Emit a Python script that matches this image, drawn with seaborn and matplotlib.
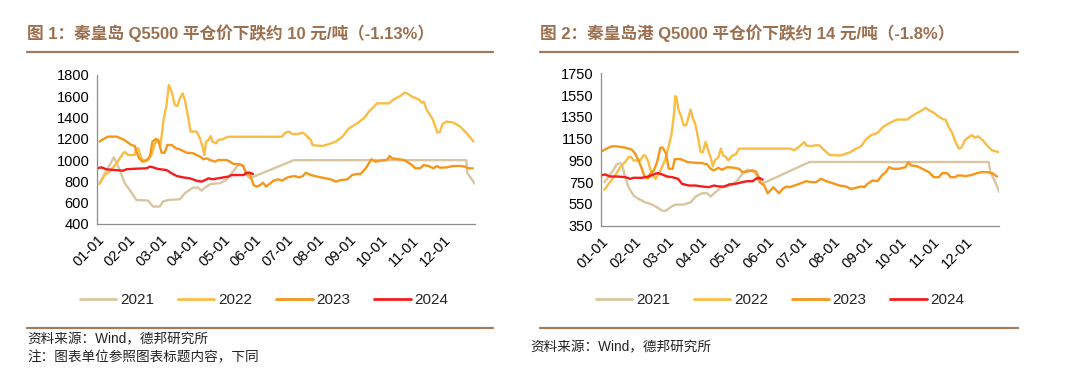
import matplotlib
matplotlib.use("Agg")
import matplotlib.pyplot as plt
from matplotlib.lines import Line2D
import seaborn as sns
import pandas as pd

# ---------------- data (x = month position, 0 = Jan 1, 12 = Dec 31) ----------------
months = ["01-01", "02-01", "03-01", "04-01", "05-01", "06-01",
          "07-01", "08-01", "09-01", "10-01", "11-01", "12-01"]
years = ["2021", "2022", "2023", "2024"]

# Chart 1: Qinhuangdao Q5500
q55_2021_x = [0.08, 0.30, 0.54, 0.72, 0.88, 1.04, 1.25, 1.62, 1.78, 1.99, 2.10, 2.26, 2.63, 2.79,
              3.05, 3.20, 3.32, 3.47, 3.62, 3.90, 4.10, 4.32, 4.48, 4.64, 4.75, 4.85, 6.25, 11.72,
              11.76, 12.0]
q55_2021_y = [783, 900, 1027, 908, 783, 720, 626, 620, 564, 564, 611, 626, 632, 689,
              742, 742, 714, 752, 777, 783, 814, 892, 955, 955, 861, 830, 1000, 1000,
              877, 777]

q55_2022_x = [0.08, 0.24, 0.40, 0.62, 0.83, 0.88, 0.99, 1.20, 1.25, 1.31, 1.41, 1.52, 1.62, 1.73,
              1.84, 1.94, 2.02, 2.10, 2.15, 2.20, 2.28, 2.37, 2.47, 2.55, 2.63, 2.72, 2.79, 2.90,
              2.97, 3.16, 3.27, 3.35, 3.41, 3.46, 3.54, 3.61, 3.67, 3.78, 3.85, 3.99, 4.12, 4.17,
              5.87, 5.98, 6.10, 6.20, 6.37, 6.53, 6.63, 6.79, 6.84, 7.00, 7.16, 7.37, 7.58, 7.79,
              8.00, 8.26, 8.47, 8.63, 8.79, 8.89, 9.26, 9.42, 9.63, 9.76, 9.84, 10.00, 10.21,
              10.32, 10.37, 10.47, 10.66, 10.74, 10.81, 10.89, 10.97, 11.10, 11.32, 11.53, 11.74,
              11.95]
q55_2022_y = [776, 860, 892, 970, 1064, 1077, 1048, 1048, 1111, 1111, 1017, 986, 1001, 1048,
              1158, 1196, 1150, 1346, 1440, 1503, 1706, 1643, 1518, 1509, 1581, 1628, 1565, 1393,
              1268, 1268, 1205, 1127, 1048, 1174, 1190, 1227, 1174, 1158, 1190, 1196, 1214, 1220,
              1220, 1258, 1268, 1246, 1246, 1258, 1236, 1189, 1142, 1136, 1133, 1152, 1174, 1221,
              1299, 1346, 1393, 1455, 1502, 1534, 1534, 1571, 1603, 1634, 1628, 1596, 1571,
              1540, 1550, 1471, 1383, 1315, 1258, 1268, 1340, 1362, 1352, 1315, 1252,
              1174]

q55_2023_x = [0.08, 0.19, 0.35, 0.62, 0.83, 0.99, 1.09, 1.20, 1.25, 1.34, 1.44, 1.57, 1.68, 1.76,
              1.87, 1.96, 2.05, 2.15, 2.23, 2.37, 2.51, 2.63, 2.84, 3.06, 3.27, 3.38, 3.48, 3.59,
              3.75, 3.85, 4.12, 4.22, 4.33, 4.54, 4.65, 4.73, 4.86, 4.97, 5.07, 5.18, 5.27, 5.37,
              5.50, 5.60, 5.76, 5.87, 6.05, 6.26, 6.42, 6.53, 6.63, 6.79, 7.00, 7.26, 7.42, 7.58,
              7.74, 7.95, 8.10, 8.26, 8.37, 8.53, 8.63, 8.71, 8.84, 9.00, 9.16, 9.23, 9.29, 9.37,
              9.58, 9.74, 9.84, 10.00, 10.11, 10.26, 10.37, 10.53, 10.68, 10.79, 10.89, 11.10,
              11.32, 11.53, 11.68, 11.79, 11.93]
q55_2023_y = [1174, 1196, 1221, 1221, 1196, 1164, 1142, 1133, 1080, 1017, 986, 1001, 1033, 1174,
              1199, 1174, 1070, 1070, 1142, 1142, 1111, 1102, 1070, 1064, 1033, 1008, 1017, 1001,
              986, 1001, 1001, 986, 964, 961, 939, 876, 860, 766, 751, 766, 788, 751,
              782, 807, 820, 807, 838, 851, 838, 850, 882, 860, 845, 829, 820, 798,
              813, 820, 860, 870, 870, 923, 970, 1008, 986, 995, 1001, 1008, 1039, 1017,
              1008, 1001, 986, 954, 923, 923, 954, 945, 923, 945, 929, 932,
              945, 945, 939, 923, 923]

q55_2024_x = [0.00, 0.14, 0.30, 0.56, 0.83, 0.93, 1.25, 1.57, 1.68, 1.78, 1.94, 2.21, 2.37, 2.53,
              2.74, 2.95, 3.16, 3.32, 3.43, 3.54, 3.67, 3.75, 3.85, 4.01, 4.17, 4.28, 4.49, 4.65,
              4.76, 4.84, 4.95]
q55_2024_y = [923, 932, 914, 907, 901, 914, 920, 923, 939, 932, 917, 907, 876, 851,
              838, 829, 807, 798, 813, 829, 820, 825, 829, 838, 845, 860, 860, 860,
              882, 882, 870]

# Chart 2: Qinhuangdao port Q5000
q50_2021_x = [0.10, 0.22, 0.37, 0.47, 0.58, 0.63, 0.73, 0.83, 0.98, 1.13, 1.33, 1.54, 1.69, 1.84,
              1.96, 2.09, 2.24, 2.49, 2.70, 2.85, 3.05, 3.20, 3.30, 3.45, 3.61, 3.81, 3.96, 4.11,
              4.26, 4.41, 4.52, 4.65, 4.77, 4.85, 6.28, 11.68, 11.73, 11.88, 12.0]
q50_2021_y = [750, 796, 858, 913, 925, 913, 796, 704, 627, 596, 565, 544, 519, 488,
              488, 519, 544, 544, 565, 617, 648, 648, 617, 658, 698, 710, 729, 766,
              827, 864, 858, 830, 750, 735, 935, 935, 842, 750, 658]

q50_2022_x = [0.10, 0.27, 0.42, 0.58, 0.73, 0.83, 0.91, 0.98, 1.18, 1.28, 1.33, 1.41, 1.48, 1.56,
              1.64, 1.74, 1.84, 1.94, 2.02, 2.12, 2.19, 2.24, 2.27, 2.34, 2.42, 2.49, 2.57, 2.65,
              2.70, 2.77, 2.85, 2.93, 3.00, 3.07, 3.15, 3.23, 3.30, 3.37, 3.43, 3.54, 3.61, 3.68,
              3.76, 3.84, 3.96, 4.06, 4.16, 5.70, 5.83, 5.98, 6.13, 6.18, 6.33, 6.43, 6.58, 6.73,
              6.88, 7.03, 7.23, 7.38, 7.53, 7.68, 7.83, 7.98, 8.13, 8.33, 8.50, 8.66, 8.83, 8.93,
              9.23, 9.33, 9.53, 9.68, 9.78, 9.88, 10.03, 10.18, 10.33, 10.38, 10.46, 10.58, 10.68,
              10.78, 10.86, 10.96, 11.08, 11.18, 11.26, 11.36, 11.48, 11.63, 11.78, 11.98]
q50_2022_y = [679, 750, 811, 888, 935, 981, 981, 950, 950, 996, 996, 950, 873, 811,
              781, 827, 888, 965, 1058, 1181, 1350, 1541, 1530, 1411, 1350, 1273, 1273, 1365,
              1418, 1335, 1273, 1150, 1027, 1027, 1119, 1042, 981, 895, 950, 981, 1058, 996,
              981, 950, 996, 1005, 1058, 1058, 1042, 1079, 1119, 1088, 1079, 1088, 1088, 1042,
              1002, 996, 996, 1012, 1027, 1058, 1079, 1141, 1181, 1202, 1258, 1288, 1313, 1325,
              1325, 1350, 1387, 1411, 1433, 1411, 1387, 1350, 1325, 1325, 1264, 1202, 1119,
              1058, 1067, 1135, 1165, 1181, 1159, 1171, 1141, 1088, 1042, 1027]

q50_2023_x = [0.04, 0.17, 0.32, 0.47, 0.73, 0.93, 1.03, 1.13, 1.23, 1.31, 1.41, 1.48, 1.59, 1.69,
              1.79, 1.86, 1.96, 2.04, 2.16, 2.22, 2.39, 2.49, 2.60, 2.85, 3.05, 3.20, 3.30, 3.40,
              3.54, 3.64, 3.81, 4.01, 4.16, 4.26, 4.41, 4.57, 4.67, 4.75, 4.79, 4.92, 5.02, 5.12,
              5.19, 5.27, 5.37, 5.47, 5.58, 5.68, 5.83, 6.03, 6.18, 6.33, 6.48, 6.63, 6.78, 6.98,
              7.18, 7.38, 7.53, 7.68, 7.83, 7.93, 8.03, 8.18, 8.33, 8.46, 8.58, 8.68, 8.80, 8.98,
              9.18, 9.26, 9.33, 9.53, 9.68, 9.88, 10.03, 10.18, 10.28, 10.43, 10.53, 10.68, 10.73,
              10.88, 10.98, 11.18, 11.33, 11.48, 11.63, 11.78, 11.93]
q50_2023_y = [1036, 1058, 1079, 1079, 1067, 1048, 1012, 950, 873, 802, 781, 827, 858, 935,
              1067, 1067, 1012, 873, 873, 962, 962, 950, 935, 928, 925, 913, 873, 858,
              882, 864, 888, 882, 873, 842, 848, 858, 848, 796, 750, 719, 648, 679,
              704, 679, 648, 688, 710, 704, 719, 741, 759, 750, 750, 781, 759, 741,
              719, 710, 688, 698, 710, 704, 735, 766, 759, 811, 842, 888, 873, 873,
              888, 935, 904, 895, 873, 842, 796, 796, 833, 833, 796, 796, 811,
              811, 805, 817, 833, 842, 842, 833, 802]

q50_2024_x = [0.00, 0.12, 0.27, 0.47, 0.73, 0.88, 0.98, 1.23, 1.43, 1.64, 1.72, 1.84, 1.99, 2.14,
              2.32, 2.44, 2.65, 2.85, 3.05, 3.25, 3.40, 3.56, 3.71, 3.86, 4.06, 4.26, 4.41, 4.57,
              4.67, 4.77, 4.87]
q50_2024_y = [811, 821, 802, 802, 796, 781, 790, 790, 802, 827, 833, 821, 802, 796,
              781, 735, 719, 719, 710, 704, 719, 710, 710, 729, 735, 750, 759, 759,
              781, 790, 772]

titles = ["图 1：秦皇岛 Q5500 平仓价下跌约 10 元/吨（-1.13%）",
          "图 2：秦皇岛港 Q5000 平仓价下跌约 14 元/吨（-1.8%）"]
y_ticks_1 = [400, 600, 800, 1000, 1200, 1400, 1600, 1800]
y_ticks_2 = [350, 550, 750, 950, 1150, 1350, 1550, 1750]
source_text = "资料来源：Wind，德邦研究所"
note_text = "注：图表单位参照图表标题内容，下同"

# ---------------- styling ----------------
palette = {"2021": "#d9c6a0", "2022": "#f9bd45", "2023": "#f6971a", "2024": "#f41c1c"}
brown = "#a27a5c"
title_color = "#9c6f4e"

sns.set_theme(style="white")
plt.rcParams["font.family"] = ["Liberation Sans", "Noto Sans CJK SC", "DejaVu Sans"]


def long_df(xs, ys):
    frames = []
    for yr, x, y in zip(years, xs, ys):
        frames.append(pd.DataFrame({"month": x, "price": y, "year": yr}))
    return pd.concat(frames, ignore_index=True)


df1 = long_df([q55_2021_x, q55_2022_x, q55_2023_x, q55_2024_x],
              [q55_2021_y, q55_2022_y, q55_2023_y, q55_2024_y])
df2 = long_df([q50_2021_x, q50_2022_x, q50_2023_x, q50_2024_x],
              [q50_2021_y, q50_2022_y, q50_2023_y, q50_2024_y])

fig = plt.figure(figsize=(10.8, 3.74), dpi=100)
W, H = 1080, 374

ax1 = fig.add_axes([97 / W, 1 - 224 / H, (475 - 97) / W, (224 - 75) / H])
ax2 = fig.add_axes([601 / W, 1 - 225.7 / H, (999.3 - 601) / W, (225.7 - 73.3) / H])

for ax, df, yt in [(ax1, df1, y_ticks_1), (ax2, df2, y_ticks_2)]:
    sns.lineplot(data=df, x="month", y="price", hue="year", palette=palette,
                 sort=False, estimator=None, linewidth=1.7, legend=False, ax=ax)
    ax.set_xlim(0, 12)
    ax.set_ylim(yt[0], yt[-1])
    ax.set_yticks(yt)
    ax.set_yticklabels([str(v) for v in yt], fontsize=10.5, color="#000000")
    ax.set_xticks(list(range(13)))
    ax.set_xticklabels(months + [""], rotation=45, ha="right", va="top",
                       rotation_mode="anchor", fontsize=10.5, color="#000000")
    ax.set_xlabel("")
    ax.set_ylabel("")
    for s in ["top", "right"]:
        ax.spines[s].set_visible(False)
    for s in ["left", "bottom"]:
        ax.spines[s].set_color("#8c8c8c")
        ax.spines[s].set_linewidth(0.9)
    ax.tick_params(axis="both", which="major", direction="out", length=3.5,
                   width=0.8, color="#8c8c8c", pad=2)
    ax.tick_params(axis="x", pad=3)
    ax.grid(False)
    ax.set_facecolor("white")

# legends
handles = [Line2D([0], [0], color=palette[y], lw=2) for y in years]
for cx in [264 / W, 780 / W]:
    fig.legend(handles, years, loc="center", bbox_to_anchor=(cx, 1 - 300 / H), ncol=4,
               frameon=False, fontsize=11, handlelength=2.4, handletextpad=0.25,
               columnspacing=1.55)

# titles and rules
title_font = ["Liberation Sans", "Noto Sans CJK SC"]
fig.text(27 / W, 1 - 33 / H, titles[0], fontsize=12, fontweight="bold", color=title_color,
         family=title_font, ha="left", va="center")
fig.text(540 / W, 1 - 33 / H, titles[1], fontsize=12, fontweight="bold", color=title_color,
         family=title_font, ha="left", va="center")
for x0, x1 in [(27, 493), (540, 1018)]:
    for yy in [52, 328]:
        fig.add_artist(Line2D([x0 / W, x1 / W], [1 - yy / H, 1 - yy / H],
                              color=brown, lw=1.6, transform=fig.transFigure))

foot_font = ["Liberation Sans", "Noto Sans CJK SC"]
fig.text(27 / W, 1 - 339 / H, source_text, fontsize=9.8, color="#222222", family=foot_font,
         ha="left", va="center")
fig.text(27 / W, 1 - 357 / H, note_text, fontsize=9.8, color="#222222", family=foot_font,
         ha="left", va="center")
fig.text(530 / W, 1 - 347 / H, source_text, fontsize=9.8, color="#222222", family=foot_font,
         ha="left", va="center")

fig.savefig("out.png", dpi=100, facecolor="white")
